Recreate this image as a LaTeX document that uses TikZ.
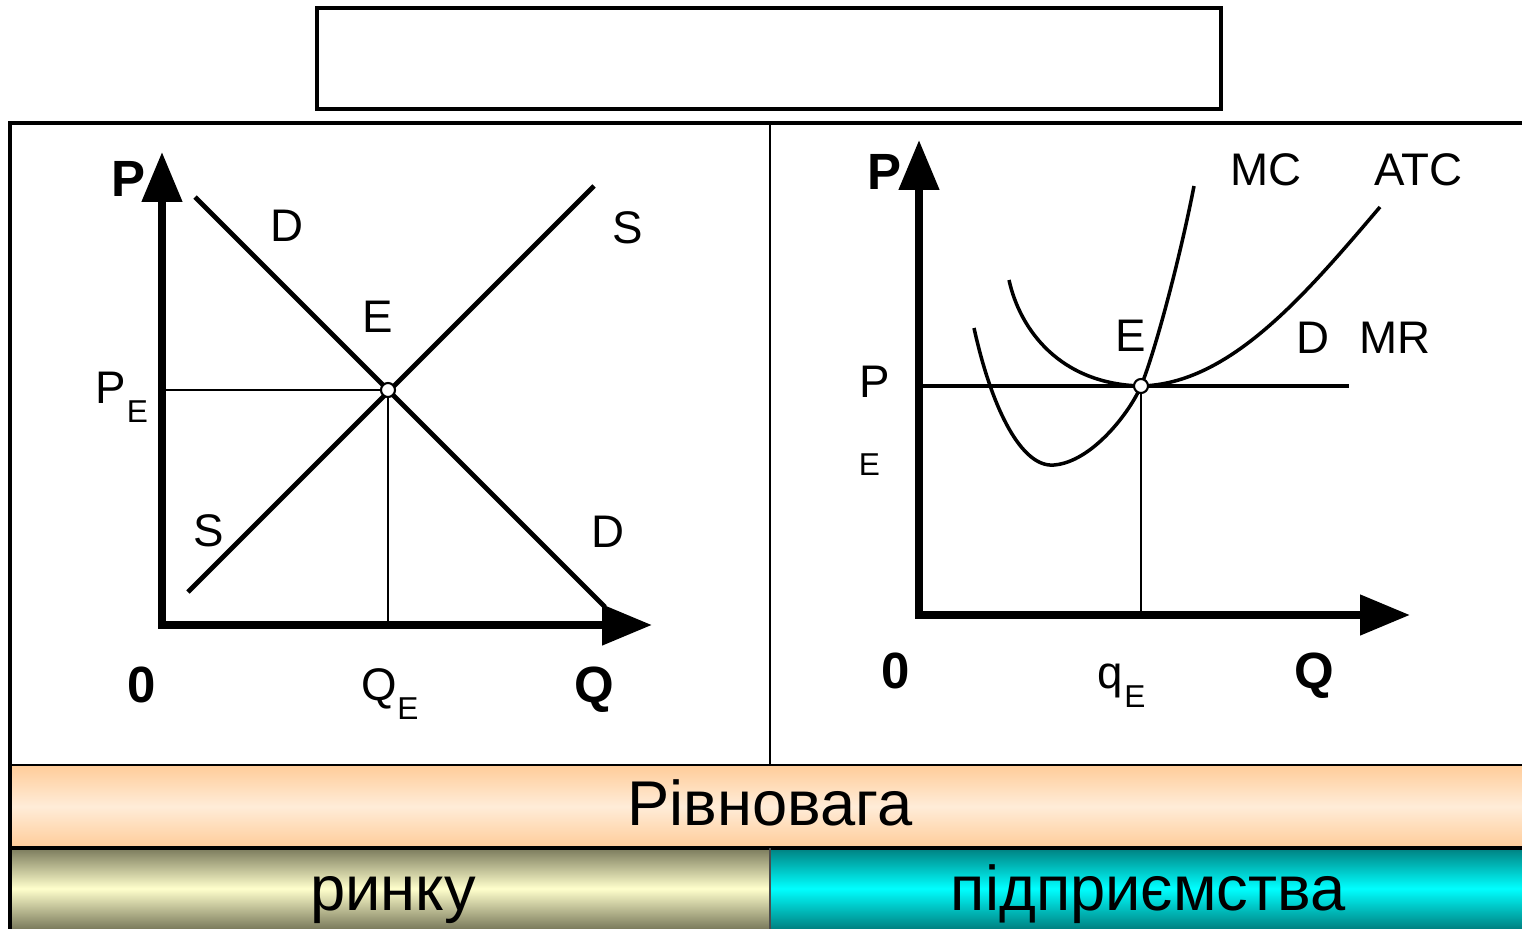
\documentclass[tikz,border=0pt]{standalone}
\usepackage{fontspec}
\setmainfont{Liberation Sans}
\usetikzlibrary{arrows.meta,positioning,calc}
\definecolor{ink}{RGB}{0,0,0}
\definecolor{peach}{RGB}{255,204,153}
\definecolor{peachLt}{RGB}{255,236,216}
\definecolor{olive}{RGB}{122,122,92}
\definecolor{oliveLt}{RGB}{255,255,204}
\definecolor{teal}{RGB}{0,128,128}
\definecolor{tealLt}{RGB}{0,255,255}
\newcommand{\lblf}{\fontsize{26}{28}\selectfont}
\newcommand{\axf}{\fontsize{29}{31}\selectfont\bfseries}
\newcommand{\subf}{\fontsize{18}{20}\selectfont}
\newcommand{\bandf}{\fontsize{36}{40}\selectfont}

\begin{document}
\begin{tikzpicture}[x=0.02cm,y=-0.02cm,
  lbl/.style={inner sep=0pt,anchor=base,font=\lblf},
  axl/.style={inner sep=0pt,anchor=base,font=\axf},
  sub/.style={inner sep=0pt,anchor=base,font=\subf},
  band/.style={inner sep=0pt,anchor=base,font=\bandf},
  axis/.style={line width=4.5pt,line join=miter,
    {Triangle[length=1cm,width=0.78cm]}-{Triangle[length=1cm,width=0.78cm]}},
  curve/.style={line width=2.8pt},
  cost/.style={line width=2pt},
  guide/.style={line width=1.6pt},
  dot/.style={circle,draw,line width=1.2pt,fill=white,inner sep=0pt,minimum size=0.28cm}]
  \useasboundingbox (0,0) rectangle (1522,929);
  % bands (bottom)
  \shade[top color=peach,bottom color=peach,middle color=peachLt] (10,765) rectangle (1522,848);
  \shade[top color=olive,bottom color=olive,middle color=oliveLt] (10,848) rectangle (770,929);
  \shade[top color=teal,bottom color=teal,middle color=tealLt] (770,848) rectangle (1522,929);
  \node[band] (eq)  at (770,825) {Рівновага};
  \node[band] (mkt) at (393,910) {ринку};
  \node[band] (frm) at (1148,910) {підприємства};
  % frame
  \draw[line width=2.3pt] (317,8) rectangle (1221,109);
  \coordinate (fTL) at (10,123);
  \coordinate (fTR) at (1522,123);
  \coordinate (fBL) at (10,929);
  \draw[line width=2.8pt] (fTR) -- (fTL) -- (fBL);
  \draw[line width=1.2pt] (10,765) -- (1522,765);
  \draw[line width=2pt] (10,848) -- (1522,848);
  \draw[line width=1.2pt] (770,123) -- (770,765);
  \draw[line width=1.4pt,ink!70] (770,848) -- (770,929);
  % left: market
  \coordinate (O1) at (162,625);
  \coordinate (yL) at (162,152);
  \coordinate (xL) at (652,625);
  \coordinate (eL) at (388,390);
  \draw[axis] (yL) -- (O1) -- (xL);
  \draw[guide] (eL) -- (eL -| O1);
  \draw[guide] (eL) -- (eL |- O1);
  \draw[curve] (195,197) coordinate (dA) -- (605,607) coordinate (dB);
  \draw[curve] (188,592) coordinate (sA) -- (594,186) coordinate (sB);
  \node[dot] (ptL) at (eL) {};
  \node[axl] (pL)  at (128,197) {P};
  \node[lbl] (dT)  at (287,242) {D};
  \node[lbl] (eT)  at (378,333) {E};
  \node[lbl] (sT)  at (628,244) {S};
  \node[lbl] (pe)  at (111,403) {P};
  \node[sub] (peS) at (137.5,422) {E};
  \node[lbl] (sD)  at (209,546) {S};
  \node[lbl] (dD)  at (608,547) {D};
  \node[axl] (zL)  at (142,702) {0};
  \node[lbl] (qe)  at (379.5,700) {Q};
  \node[sub] (qeS) at (408,719) {E};
  \node[axl] (qL)  at (594,702) {Q};
  % right: firm
  \coordinate (O2) at (919,615);
  \coordinate (yR) at (919,140);
  \coordinate (xR) at (1410,615);
  \coordinate (eR) at (1141,386);
  \coordinate (mrEnd) at (1349,386);
  \draw[axis] (yR) -- (O2) -- (xR);
  \draw[curve] (eR -| O2) -- (mrEnd);
  \draw[guide] (eR) -- (eR |- O2);
  \draw[cost] (974,328) .. controls (992,410) and (1022,468) .. (1054,465)
     .. controls (1092,462) and (1130,412) .. (eR)
     .. controls (1155,352) and (1180,258) .. (1194,186);
  \draw[cost] (1009,280) .. controls (1020,330) and (1060,384) .. (eR)
     .. controls (1230,384) and (1305,295) .. (1380,207);
  \node[dot] (ptR) at (eR) {};
  \node[axl] (pR)  at (884,190) {P};
  \node[lbl] (mc)  at (1266,186) {MC};
  \node[lbl] (atc) at (1418,186) {ATC};
  \node[lbl] (eR2) at (1131,352) {E};
  \node[lbl] (dR)  at (1313,354) {D};
  \node[lbl] (mr)  at (1395,354) {MR};
  \node[lbl] (pRe) at (875,398) {P};
  \node[sub] (eRe) at (869.5,475) {E};
  \node[axl] (zR)  at (896,688) {0};
  \node[lbl] (qf)  at (1110.5,688) {q};
  \node[sub] (qfS) at (1135,707) {E};
  \node[axl] (qR)  at (1314,688) {Q};
\end{tikzpicture}
\end{document}
